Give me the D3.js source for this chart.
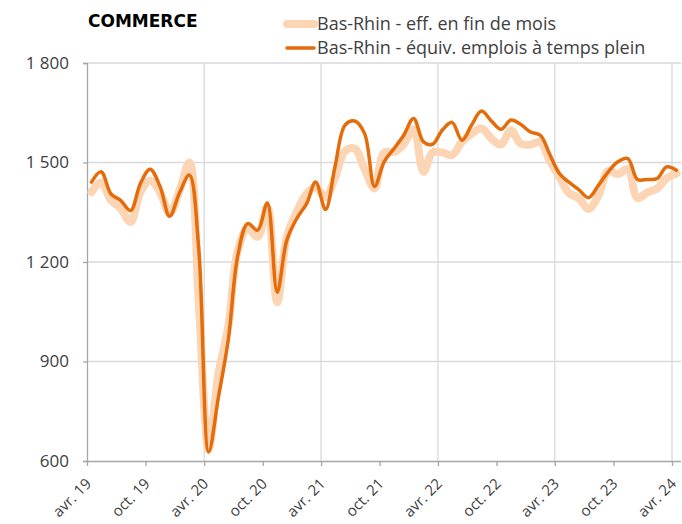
<!DOCTYPE html>
<html>
<head>
<meta charset="utf-8">
<script src="https://cdn.jsdelivr.net/npm/d3@7"></script>
<style>
  body { margin: 0; background: #fff; }
  text { font-family: "Open Sans", "Noto Sans", sans-serif; }
</style>
</head>
<body>
<div id="vis"></div>
<script>
// monthly points, april 2019 -> april 2024 (plotted mid-month)
const months = d3.timeMonth.range(new Date(2019, 3, 1), new Date(2024, 4, 1));

const effFinMois = [1411, 1440, 1386, 1361, 1321, 1411, 1445, 1411, 1346, 1416, 1500, 1080,
  637, 860, 1004, 1235, 1301, 1276, 1366, 1079, 1276, 1351, 1406, 1426,
  1395, 1455, 1535, 1542, 1480, 1422, 1530, 1532, 1555, 1600, 1472, 1530,
  1530, 1522, 1562, 1587, 1603, 1572, 1554, 1597, 1557, 1554, 1562, 1507,
  1457, 1408, 1392, 1360, 1400, 1475, 1465, 1480, 1393, 1410, 1422, 1452,
  1467];

const equivETP = [1441, 1472, 1405, 1386, 1355, 1437, 1480, 1428, 1338, 1409, 1462, 1240,
  627, 790, 964, 1220, 1316, 1296, 1378, 1109, 1266, 1331, 1376, 1441,
  1358, 1490, 1613, 1625, 1587, 1428, 1502, 1542, 1582, 1633, 1562, 1555,
  1598, 1621, 1567, 1613, 1655, 1625, 1600, 1628, 1615, 1592, 1582, 1527,
  1467, 1441, 1418, 1394, 1431, 1472, 1502, 1512, 1449, 1449, 1452, 1487,
  1477];

const yTicks = [600, 900, 1200, 1500, 1800];
const xTickLabels = ["avr. 19", "oct. 19", "avr. 20", "oct. 20", "avr. 21", "oct. 21",
  "avr. 22", "oct. 22", "avr. 23", "oct. 23", "avr. 24"];
const seriesNames = ["Bas-Rhin - eff. en fin de mois", "Bas-Rhin - équiv. emplois à temps plein"];

const W = 682, H = 524;
const plotLeft = 87, plotRight = 681, plotTop = 63, plotBottom = 461;

const svg = d3.select("#vis")
  .append("svg")
  .attr("width", W)
  .attr("height", H);

const x = d3.scaleTime()
  .domain([new Date(2019, 3, 1), new Date(2024, 3, 1)])
  .range([plotLeft, 672]);

const y = d3.scaleLinear()
  .domain([600, 1800])
  .range([plotBottom, plotTop]);

const tickDates = d3.timeMonth.range(new Date(2019, 3, 1), new Date(2024, 4, 1), 6);
const yearDates = tickDates.filter((d, i) => i > 0 && d.getMonth() === 3);

// gridlines
svg.append("g")
  .selectAll("line")
  .data(yTicks.filter(v => v > 600))
  .join("line")
  .attr("x1", plotLeft).attr("x2", plotRight)
  .attr("y1", d => y(d)).attr("y2", d => y(d))
  .attr("stroke", "#d9d9d9")
  .attr("stroke-width", 1.3);

svg.append("g")
  .selectAll("line")
  .data(yearDates)
  .join("line")
  .attr("x1", d => x(d)).attr("x2", d => x(d))
  .attr("y1", plotTop).attr("y2", plotBottom)
  .attr("stroke", "#d9d9d9")
  .attr("stroke-width", 1.3);

// y axis
const yAxis = svg.append("g")
  .attr("transform", `translate(${plotLeft},0)`)
  .call(d3.axisLeft(y).tickValues(yTicks).tickSize(4).tickPadding(14)
    .tickFormat(d => d3.format(",")(d).replace(",", " ")));
yAxis.select(".domain").attr("stroke", "#a6a6a6").attr("stroke-width", 1.3);
yAxis.selectAll(".tick line").attr("stroke", "#a6a6a6").attr("stroke-width", 1.3);
yAxis.selectAll("text")
  .attr("font-size", "17px")
  .attr("fill", "#404040")
  .style("font-family", "'Open Sans', sans-serif");

// x axis
const xAxis = svg.append("g")
  .attr("transform", `translate(0,${plotBottom})`)
  .call(d3.axisBottom(x).tickValues(tickDates).tickSize(5)
    .tickFormat((d, i) => xTickLabels[i]));
xAxis.select(".domain").attr("stroke", "#a6a6a6").attr("stroke-width", 1.3)
  .attr("d", `M${plotLeft},0.5H${plotRight}`);
xAxis.selectAll(".tick line").attr("stroke", "#a6a6a6").attr("stroke-width", 1.3);
xAxis.selectAll("text")
  .attr("font-size", "15px")
  .attr("fill", "#404040")
  .attr("text-anchor", "end")
  .attr("dy", "0.35em")
  .attr("transform", "translate(1,20) rotate(-45)")
  .attr("y", 0);

// lines
const midMonth = d => d3.timeDay.offset(d, 14);
const line = d3.line()
  .x((d, i) => x(midMonth(months[i])))
  .y(d => y(d))
  .curve(d3.curveCatmullRom.alpha(0.5));

svg.append("path")
  .datum(effFinMois)
  .attr("fill", "none")
  .attr("stroke", "#fcd5b5")
  .attr("stroke-width", 8)
  .attr("stroke-linejoin", "round")
  .attr("stroke-linecap", "round")
  .attr("d", line);

svg.append("path")
  .datum(equivETP)
  .attr("fill", "none")
  .attr("stroke", "#e46c0a")
  .attr("stroke-width", 3.5)
  .attr("stroke-linejoin", "round")
  .attr("stroke-linecap", "round")
  .attr("d", line);

// title
svg.append("text")
  .attr("x", 88)
  .attr("y", 27)
  .attr("font-size", "17px")
  .attr("font-weight", "bold")
  .attr("fill", "#000")
  .style("font-family", "'DejaVu Sans', sans-serif")
  .text("COMMERCE");

// legend
const legColors = ["#fcd5b5", "#e46c0a"];
const legWidths = [8, 3.5];
seriesNames.forEach((name, i) => {
  const ly = 24 + i * 24;
  svg.append("line")
    .attr("x1", 287).attr("x2", 314)
    .attr("y1", ly).attr("y2", ly)
    .attr("stroke", legColors[i])
    .attr("stroke-width", legWidths[i])
    .attr("stroke-linecap", "round");
  svg.append("text")
    .attr("x", 317)
    .attr("y", ly + 6)
    .attr("font-size", "18px")
    .attr("fill", "#404040")
    .text(name);
});
</script>
</body>
</html>
